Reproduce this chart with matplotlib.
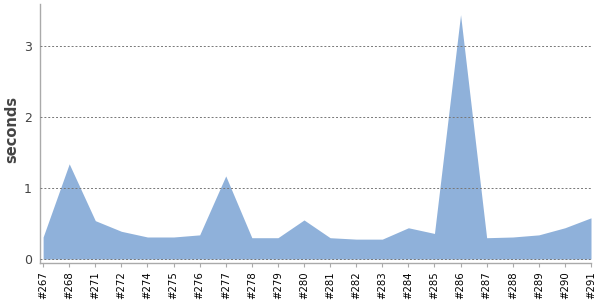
import numpy as np
import matplotlib.pyplot as plt

builds = ["#267", "#268", "#271", "#272", "#274", "#275", "#276", "#277",
          "#278", "#279", "#280", "#281", "#282", "#283", "#284", "#285",
          "#286", "#287", "#288", "#289", "#290", "#291"]
seconds = [0.31, 1.34, 0.54, 0.39, 0.31, 0.31, 0.34, 1.17,
           0.30, 0.30, 0.55, 0.30, 0.28, 0.28, 0.44, 0.36,
           3.44, 0.30, 0.31, 0.34, 0.44, 0.58]

fig = plt.figure(figsize=(6, 3), dpi=100)
ax = fig.add_axes([40 / 600, 37 / 300, 551 / 600, 259 / 300])

x = np.arange(len(builds))
ax.fill_between(x, 0, seconds, color="#8FB1DA", linewidth=0)

ax.set_xlim(-0.12, len(builds) - 1)
ax.set_ylim(-0.056, 3.59)

ax.set_yticks([0, 1, 2, 3])
ax.set_yticklabels(["0", "1", "2", "3"])
ax.yaxis.grid(True, linestyle=(0, (2, 2)), color="#777777", linewidth=0.7)
ax.set_axisbelow(False)

ax.set_xticks(x)
ax.set_xticklabels(builds, rotation=90, fontsize=7.3, color="black")

ax.tick_params(axis="y", length=0, labelsize=9, labelcolor="#444444", pad=6)
ax.tick_params(axis="x", length=3, color="#aaaaaa", pad=3)

for side in ["top", "right"]:
    ax.spines[side].set_visible(False)
for side in ["left", "bottom"]:
    ax.spines[side].set_color("#aaaaaa")
    ax.spines[side].set_linewidth(1)

ax.set_ylabel("seconds", fontsize=10.5, fontweight="bold", color="#444444")
ax.yaxis.set_label_coords(-0.037, 0.514)

plt.savefig("out.png")
